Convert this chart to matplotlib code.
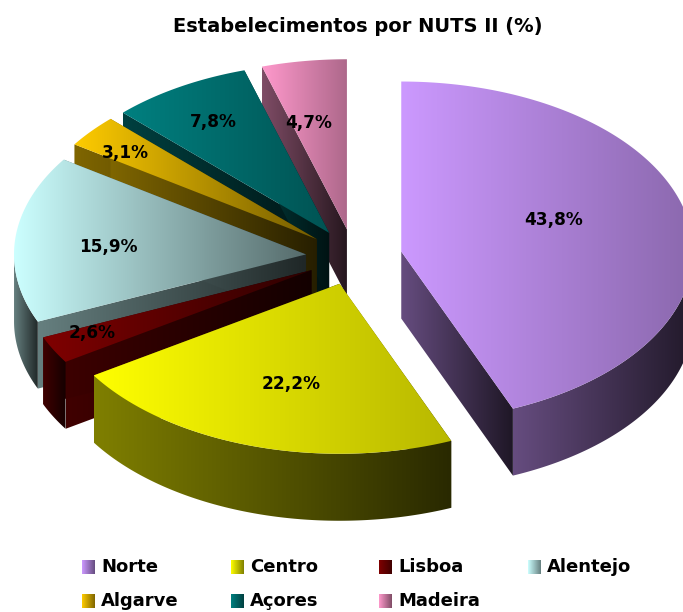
import numpy as np
import matplotlib
matplotlib.use("Agg")
import matplotlib.pyplot as plt
from matplotlib.patches import PathPatch
from matplotlib.path import Path

title = "Estabelecimentos por NUTS II (%)"
regions = ["Norte", "Centro", "Lisboa", "Alentejo", "Algarve", "Açores", "Madeira"]
shares = [43.8, 22.2, 2.6, 15.9, 3.1, 7.8, 4.7]
share_labels = ["43,8%", "22,2%", "2,6%", "15,9%", "3,1%", "7,8%", "4,7%"]
colors = ["#CC99FF", "#FFFF00", "#800000", "#CCFFFF", "#FFCC00", "#008080", "#FF99CC"]

# how dark each top face gets on its right side
top_end = [0.68, 0.72, 0.35, 0.42, 0.45, 0.65, 0.68]
# pixel spot of each percent label
label_xy = [(554, 220), (291, 384), (92, 333), (108, 247), (125, 153), (213, 122), (309, 123)]
# painter order, back to front
draw_order = [6, 5, 4, 3, 2, 0, 1]

# pie geometry in pixels
cx, cy = 354, 257
rx, ry = 292, 170
depth = 67
explode = 0.165

font = "DejaVu Sans"

fig = plt.figure(figsize=(6.83, 6.12), dpi=100)
ax = fig.add_axes([0, 0, 1, 1])
ax.set_axis_off()


def shade(color, k):
    return np.array(matplotlib.colors.to_rgb(color)) * k


def fill_gradient(pts, c0, c1, z):
    # polygon filled with a left to right gradient
    pts = np.asarray(pts)
    x0, x1 = pts[:, 0].min(), pts[:, 0].max()
    y0, y1 = pts[:, 1].min(), pts[:, 1].max()
    patch = PathPatch(Path(np.vstack([pts, pts[0]]), closed=True), fc="none", ec="none", zorder=z)
    ax.add_patch(patch)
    ramp = np.linspace(0, 1, 1024)[None, :, None]
    img = c0[None, None, :] * (1 - ramp) + c1[None, None, :] * ramp
    im = ax.imshow(img, extent=(x0, x1, y1, y0), aspect="auto", zorder=z, interpolation="nearest")
    im.set_clip_path(patch)


def rim(ox, oy, a0, a1, n=120):
    t = np.radians(np.linspace(a0, a1, n))
    return np.column_stack([ox + rx * np.sin(t), oy - ry * np.cos(t)])


# slice angles, clockwise from the top
edges = np.cumsum([0] + shares)
edges = edges / edges[-1] * 360

z = 1
for i in draw_order:
    a0, a1 = edges[i], edges[i + 1]
    mid = np.radians((a0 + a1) / 2)
    ox = cx + rx * explode * np.sin(mid)
    oy = cy - ry * explode * np.cos(mid)
    apex = np.array([ox, oy])
    drop = np.array([0, depth])
    col = colors[i]

    # cut faces
    for a in (a0, a1):
        r = rim(ox, oy, a, a, 1)[0]
        face = [apex, r, r + drop, apex + drop]
        fill_gradient(face, shade(col, 0.5), shade(col, 0.15), z)
        z += 1

    # round outer wall, front half only
    w0, w1 = max(a0, 90), min(a1, 270)
    if w1 > w0:
        top = rim(ox, oy, w0, w1)
        wall = np.vstack([top, (top + drop)[::-1]])
        fill_gradient(wall, shade(col, 0.5), shade(col, 0.16), z)
        z += 1

    # top face
    fill_gradient(np.vstack([apex, rim(ox, oy, a0, a1, 240)]), shade(col, 1), shade(col, top_end[i]), z)
    z += 1

for lab, (x, y) in zip(share_labels, label_xy):
    ax.text(x, y, lab, ha="center", va="center", fontsize=12.2, fontweight="bold",
            family=font, color="black", zorder=z)

ax.text(357.5, 27, title, ha="center", va="center", fontsize=14, fontweight="bold",
        family=font, color="black", zorder=z)

# legend
col_x = [82, 231, 379, 528]
row_y = [567, 601]
for i, name in enumerate(regions):
    x = col_x[i % 4]
    y = row_y[i // 4]
    box = [(x, y - 7), (x + 13, y - 7), (x + 13, y + 7), (x, y + 7)]
    fill_gradient(box, shade(colors[i], 1), shade(colors[i], 0.5), z)
    ax.text(x + 19, y, name, ha="left", va="center", fontsize=13, fontweight="bold",
            family=font, color="black", zorder=z)

ax.set_xlim(0, 683)
ax.set_ylim(612, 0)
fig.savefig("out.png", dpi=100)
